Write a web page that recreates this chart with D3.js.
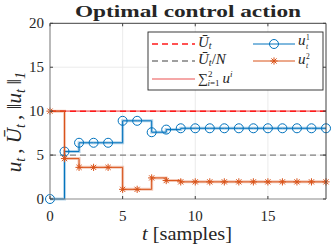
<!DOCTYPE html>
<html>
<head>
<meta charset="utf-8">
<script src="https://cdn.jsdelivr.net/npm/d3@7"></script>
<style>
  body { margin: 0; background: #fff; }
  text { font-family: "Liberation Serif", "DejaVu Serif", serif; fill: #262626; }
</style>
</head>
<body>
<svg id="chart" width="332" height="246" font-family="Liberation Serif"></svg>
<script>
// samples and control actions
var t = d3.range(0, 20);
var u1 = [0, 5.4, 6.4, 6.4, 6.4, 8.9, 8.9, 7.6, 7.9, 8.05, 8.05, 8.05, 8.05, 8.05, 8.05, 8.05, 8.05, 8.05, 8.05, 8.05];
var u2 = [10, 4.6, 3.6, 3.6, 3.6, 1.1, 1.1, 2.4, 2.1, 1.95, 1.95, 1.95, 1.95, 1.95, 1.95, 1.95, 1.95, 1.95, 1.95, 1.95];
var Ubar = 10;
var N = 2;
var xTicks = [0, 5, 10, 15];
var yTicks = [0, 5, 10, 15, 20];

var total = u1.map(function(v, i) { return v + u2[i]; });

var margin = {top: 23.3, right: 6, bottom: 47, left: 50},
    width = 332, height = 246;

var svg = d3.select("#chart");

var x = d3.scaleLinear().domain([0, 19]).range([margin.left, width - margin.right]);
var y = d3.scaleLinear().domain([0, 20]).range([height - margin.bottom, margin.top]);

var blue = "#0072BD", orange = "#D95319";

// grid
var grid = svg.append("g");
grid.selectAll(".gx").data(xTicks.filter(function(d) { return d > 0; }))
  .enter().append("line")
    .attr("x1", x).attr("x2", x)
    .attr("y1", y(0)).attr("y2", y(20))
    .attr("stroke", "#e6e6e6").attr("stroke-width", 0.8);
grid.selectAll(".gy").data(yTicks.filter(function(d) { return d > 0 && d < 20; }))
  .enter().append("line")
    .attr("y1", y).attr("y2", y)
    .attr("x1", x(0)).attr("x2", x(19))
    .attr("stroke", "#e6e6e6").attr("stroke-width", 0.8);

var stairs = d3.line()
    .x(function(d) { return x(d[0]); })
    .y(function(d) { return y(d[1]); })
    .curve(d3.curveStepAfter);

// reference levels
svg.append("path")
    .attr("d", stairs(t.map(function(d, i) { return [d, total[i]]; })))
    .attr("fill", "none").attr("stroke", "#f28a8a").attr("stroke-width", 1.6);
svg.append("line")
    .attr("x1", x(0)).attr("x2", x(19)).attr("y1", y(Ubar)).attr("y2", y(Ubar))
    .attr("stroke", "#ff1a1a").attr("stroke-width", 1.5).attr("stroke-dasharray", "6,4");
svg.append("line")
    .attr("x1", x(0)).attr("x2", x(19)).attr("y1", y(Ubar / N)).attr("y2", y(Ubar / N))
    .attr("stroke", "#808080").attr("stroke-width", 1.3).attr("stroke-dasharray", "6,4");

// control series
function series(vals, color, marker) {
  var pts = t.map(function(d, i) { return [d, vals[i]]; });
  svg.append("path").attr("d", stairs(pts))
      .attr("fill", "none").attr("stroke", color).attr("stroke-opacity", 0.3).attr("stroke-width", 3);
  svg.append("path").attr("d", stairs(pts))
      .attr("fill", "none").attr("stroke", color).attr("stroke-width", 1);
  var m = svg.append("g").selectAll("g").data(pts).enter().append("g")
      .attr("transform", function(d) { return "translate(" + x(d[0]) + "," + y(d[1]) + ")"; });
  marker(m, color);
}
function circleMarker(sel, color) {
  sel.append("circle").attr("r", 4.5).attr("fill", "none").attr("stroke", color).attr("stroke-width", 1);
}
function starMarker(sel, color) {
  var r = 3.6, k = r * 0.72;
  sel.append("path")
      .attr("d", "M" + (-r) + ",0H" + r + "M0," + (-r) + "V" + r +
                 "M" + (-k) + "," + (-k) + "L" + k + "," + k + "M" + (-k) + "," + k + "L" + k + "," + (-k))
      .attr("stroke", color).attr("stroke-width", 1);
}
series(u1, blue, circleMarker);
series(u2, orange, starMarker);

// axes box
var box = svg.append("g");
box.append("line").attr("x1", x(0)).attr("x2", x(19)).attr("y1", y(20)).attr("y2", y(20)).attr("stroke", "#404040");
box.append("line").attr("x1", x(19)).attr("x2", x(19)).attr("y1", y(0)).attr("y2", y(20)).attr("stroke", "#404040");
box.append("line").attr("x1", x(0)).attr("x2", x(19)).attr("y1", y(0)).attr("y2", y(0)).attr("stroke", "#8a8a8a").attr("stroke-width", 1.2);
box.append("line").attr("x1", x(0)).attr("x2", x(0)).attr("y1", y(0)).attr("y2", y(20)).attr("stroke", "#8a8a8a").attr("stroke-width", 1.2);

xTicks.forEach(function(d) {
  box.append("line").attr("x1", x(d)).attr("x2", x(d)).attr("y1", y(0)).attr("y2", y(0) - 3).attr("stroke", "#404040");
  box.append("line").attr("x1", x(d)).attr("x2", x(d)).attr("y1", y(20)).attr("y2", y(20) + 3).attr("stroke", "#404040");
  svg.append("text").attr("x", x(d)).attr("y", y(0) + 22)
      .attr("text-anchor", "middle").attr("font-size", 15).text(d);
});
yTicks.forEach(function(d) {
  box.append("line").attr("x1", x(0)).attr("x2", x(0) + 3).attr("y1", y(d)).attr("y2", y(d)).attr("stroke", "#404040");
  box.append("line").attr("x1", x(19)).attr("x2", x(19) - 3).attr("y1", y(d)).attr("y2", y(d)).attr("stroke", "#404040");
  svg.append("text").attr("x", x(0) - 6).attr("y", y(d) + 5)
      .attr("text-anchor", "end").attr("font-size", 15).text(d);
});

// title
svg.append("text").attr("x", (x(0) + x(19)) / 2).attr("y", 17)
    .attr("text-anchor", "middle").attr("font-size", 17).attr("font-weight", "bold")
    .attr("textLength", 226).attr("lengthAdjust", "spacingAndGlyphs")
    .text("Optimal control action");

// x label
var xl = svg.append("text").attr("x", 187).attr("y", 240).attr("text-anchor", "middle").attr("font-size", 18)
    .attr("textLength", 90).attr("lengthAdjust", "spacingAndGlyphs");
xl.append("tspan").attr("font-style", "italic").text("t");
xl.append("tspan").text(" [samples]");

// y label
var yl = svg.append("text").attr("transform", "translate(21,120) rotate(-90)")
    .attr("text-anchor", "middle").attr("font-size", 21);
function sub(sel, s) {
  sel.append("tspan").attr("font-size", 14).attr("dy", 4).attr("font-style", "italic").text(s);
  sel.append("tspan").attr("dy", -4).text("\u2009");
}
yl.append("tspan").attr("font-style", "italic").text("u");
sub(yl, "t");
yl.append("tspan").text(",  ");
yl.append("tspan").attr("font-style", "italic").text("\u016A");
sub(yl, "t");
yl.append("tspan").text(",  \u2016");
yl.append("tspan").attr("font-style", "italic").text("u");
sub(yl, "t");
yl.append("tspan").text("\u2016");
sub(yl, "1");

// legend
var lg = svg.append("g");
lg.append("rect").attr("x", 148).attr("y", 32).attr("width", 175).attr("height", 58)
    .attr("fill", "#fff").attr("stroke", "#262626").attr("stroke-width", 0.9);

function legLine(x1, x2, yy, color, w, dash) {
  lg.append("line").attr("x1", x1).attr("x2", x2).attr("y1", yy).attr("y2", yy)
      .attr("stroke", color).attr("stroke-width", w).attr("stroke-dasharray", dash || null);
}
legLine(152, 195, 44, "#ff1a1a", 1.5, "6,4");
legLine(152, 195, 61, "#808080", 1.3, "6,4");
legLine(152, 195, 79, "#f28a8a", 1.6);
legLine(253, 295, 44, blue, 1);
legLine(253, 295, 61, orange, 1);
circleMarker(lg.append("g").attr("transform", "translate(274,44)"), blue);
starMarker(lg.append("g").attr("transform", "translate(274,61)"), orange);

var l1 = lg.append("text").attr("x", 198).attr("y", 47).attr("font-size", 15);
l1.append("tspan").attr("font-style", "italic").text("\u016A");
l1.append("tspan").attr("font-size", 10).attr("dy", 2).attr("font-style", "italic").text("t");

var l2 = lg.append("text").attr("x", 198).attr("y", 64).attr("font-size", 15);
l2.append("tspan").attr("font-style", "italic").text("\u016A");
l2.append("tspan").attr("font-size", 10).attr("dy", 2).attr("font-style", "italic").text("t");
l2.append("tspan").attr("dy", -2).text("/");
l2.append("tspan").attr("font-style", "italic").text("N");

var l3 = lg.append("text").attr("x", 198).attr("y", 83).attr("font-size", 14);
l3.append("tspan").text("\u2211");
l3.append("tspan").attr("font-size", 9).attr("dy", -6).text("2");
l3.append("tspan").attr("font-size", 9).attr("dx", -5).attr("dy", 9).attr("font-style", "italic").text("i");
l3.append("tspan").attr("font-size", 9).text("=1");
l3.append("tspan").attr("font-size", 15).attr("dx", 3).attr("dy", -3).attr("font-style", "italic").text("u");
l3.append("tspan").attr("font-size", 9).attr("dy", -6).attr("font-style", "italic").text("i");

function legU(yy, s) {
  var tx = lg.append("text").attr("x", 298).attr("y", yy).attr("font-size", 15);
  tx.append("tspan").attr("font-style", "italic").text("u");
  // super- and subscript as separate texts so they stack
  lg.append("text").attr("x", 306).attr("y", yy - 5).attr("font-size", 7.5).text(s);
  lg.append("text").attr("x", 306).attr("y", yy + 3.5).attr("font-size", 7.5).attr("font-style", "italic").text("t");
}
legU(45, "1");
legU(64, "2");
</script>
</body>
</html>
